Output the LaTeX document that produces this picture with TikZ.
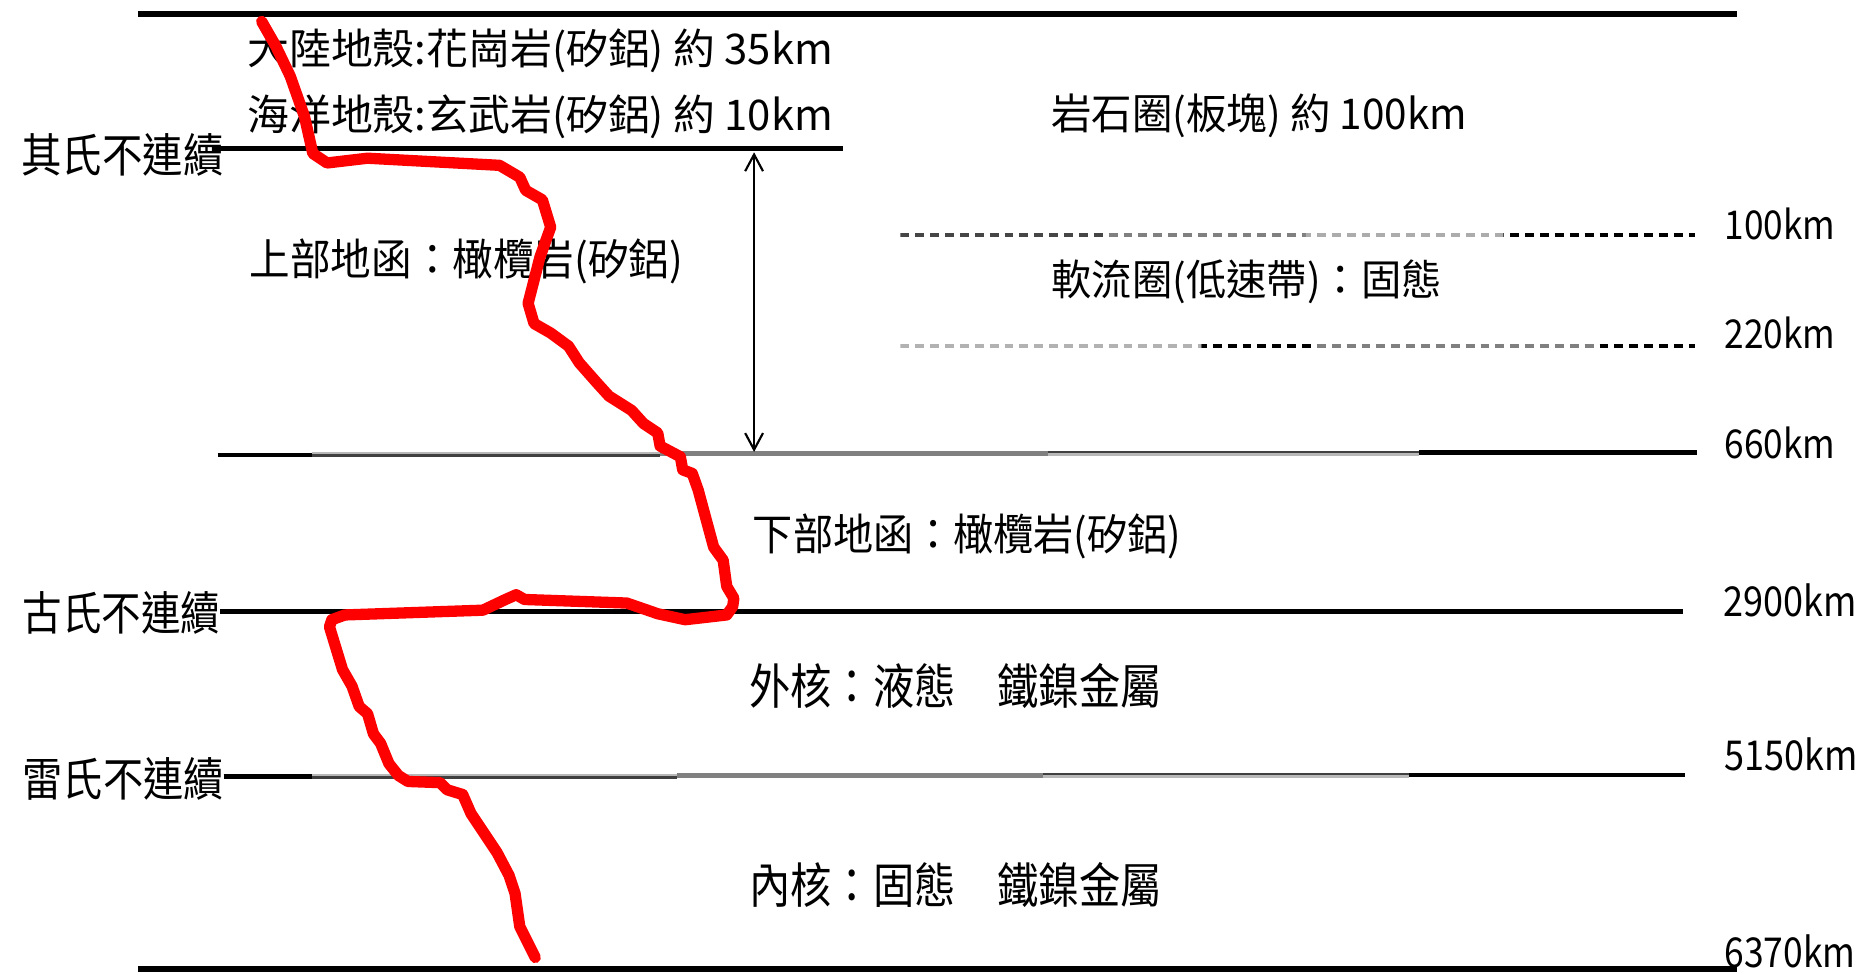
\documentclass[tikz,border=0pt]{standalone}
\usepackage{fontspec}
\usepackage{graphicx}
\newfontfamily\cjk{Noto Sans CJK TC}
\usetikzlibrary{arrows.meta}
\definecolor{lg}{gray}{0.72}
\definecolor{mg}{gray}{0.5}
\definecolor{dg}{gray}{0.25}
\newcommand{\lbl}[3]{\resizebox*{#1}{#2}{\cjk #3}}
\tikzset{
  lab/.style={inner sep=0pt, outer sep=0pt, anchor=west},
  heavy/.style={line width=0.05cm, black},
  layer/.style={line width=0.04cm},
  half/.style={line width=0.02cm},
  dashpat/.style={line width=0.032cm, dash pattern=on 0.075cm off 0.05cm},
  redpath/.style={red, line width=0.095cm, line join=round, line cap=round},
  dblarrow/.style={line width=0.018cm, {Straight Barb[length=0.14cm,width=0.15cm]}-{Straight Barb[length=0.14cm,width=0.15cm]}}
}
\newcommand{\dseg}[4]{% y, x0, x1, colour
  \begin{scope}\clip (#2,#1-6) rectangle (#3,#1+6);
  \draw[dashpat, #4] (757,#1) -- (1425,#1);\end{scope}}
\begin{document}
\begin{tikzpicture}[x=0.01cm, y=-0.01cm]
\useasboundingbox (0,0) rectangle (1568,817);
\fill[white] (0,0) rectangle (1568,817);

% main horizontal lines
\draw[heavy] (116,11.5) -- (1460,11.5);
\draw[layer] (180,125) -- (709,125);
\draw[layer] (185,514) -- (1415,514);
\draw[heavy] (116,815) -- (1460,815);

% 660 km line (antialiased grey parts)
\draw[layer] (183,382.5) -- (262,382.5);
\draw[half, lg] (262,381.2) -- (555,381.2);
\draw[half, dg] (262,383) -- (555,383);
\draw[layer, mg] (555,381.5) -- (881,381.5);
\draw[half, dg] (881,380.2) -- (1193,380.2);
\draw[half, lg] (881,382) -- (1193,382);
\draw[layer] (1193,380.7) -- (1427,380.7);

% 5150 km line
\draw[layer] (188,653) -- (262,653);
\draw[half, lg] (262,651.8) -- (569,651.8);
\draw[half, dg] (262,653.6) -- (569,653.6);
\draw[layer, mg] (569,652.3) -- (877,652.3);
\draw[half, dg] (877,651) -- (1185,651);
\draw[half, lg] (877,652.8) -- (1185,652.8);
\draw[layer] (1185,651.5) -- (1417,651.5);

% dashed lines
\dseg{197.5}{757}{928}{gray!55!black}
\dseg{197.5}{928}{1098}{mg}
\dseg{197.5}{1098}{1264}{gray!65}
\dseg{197.5}{1264}{1425}{black}
\dseg{291}{757}{1010}{gray!60}
\dseg{291}{1010}{1103}{black}
\dseg{291}{1103}{1341}{mg}
\dseg{291}{1341}{1425}{black}

% double arrow
\coordinate (arrT) at (634,128);
\coordinate (arrB) at (634,380);
\draw[dblarrow] (arrT) -- (arrB);

% labels
\node[lab] (crust1) at (208,43) {\lbl{4.92cm}{0.37cm}{大陸地殼:花崗岩(矽鋁) 約 35km}};
\node[lab] (crust2) at (208,98) {\lbl{4.92cm}{0.37cm}{海洋地殼:玄武岩(矽鋁) 約 10km}};
\node[lab] (moho) at (18,130) {\lbl{1.70cm}{0.36cm}{其氏不連續}};
\node[lab] (litho) at (884,97) {\lbl{3.49cm}{0.37cm}{岩石圈(板塊) 約 100km}};
\node[lab] (astheno) at (884,237) {\lbl{3.28cm}{0.37cm}{軟流圈(低速帶)：固態}};
\node[lab] (upper) at (210,220) {\lbl{3.64cm}{0.38cm}{上部地函：橄欖岩(矽鋁)}};
\node[lab] (lower) at (633,451) {\lbl{3.60cm}{0.38cm}{下部地函：橄欖岩(矽鋁)}};
\node[lab] (outer) at (630,577) {\lbl{3.47cm}{0.38cm}{外核：液態　鐵鎳金屬}};
\node[lab] (inner) at (630,744) {\lbl{3.47cm}{0.38cm}{內核：固態　鐵鎳金屬}};
\node[lab] (guten) at (19,515) {\lbl{1.66cm}{0.36cm}{古氏不連續}};
\node[lab] (lehm) at (19,655) {\lbl{1.69cm}{0.36cm}{雷氏不連續}};
\node[lab] (d100) at (1450,188) {\lbl{0.93cm}{0.27cm}{100km}};
\node[lab] (d220) at (1450,280) {\lbl{0.93cm}{0.27cm}{220km}};
\node[lab] (d660) at (1450,372) {\lbl{0.93cm}{0.27cm}{660km}};
\node[lab] (d2900) at (1449,505) {\lbl{1.12cm}{0.28cm}{2900km}};
\node[lab] (d5150) at (1450,634) {\lbl{1.12cm}{0.28cm}{5150km}};
\node[lab] (d6370) at (1450,800) {\lbl{1.10cm}{0.28cm}{6370km}};

% red velocity curve
\draw[redpath] (220,18) -- (232,39) -- (244,64) -- (256,98) -- (263,129) -- (275,137)
 -- (309,133) -- (420,139) -- (437,149) -- (442,160) -- (456,168) -- (463,191)
 -- (454,216) -- (444,255) -- (449,272) -- (463,280) -- (478,291) -- (487,305)
 -- (502,322) -- (512,333) -- (531,345) -- (541,356) -- (553,364) -- (555,375)
 -- (572,384) -- (574,395) -- (582,398) -- (587,412) -- (600,460) -- (608,471)
 -- (611,493) -- (617,503) -- (616,510) -- (611,517) -- (585,520) -- (576,521)
 -- (553,516) -- (527,507) -- (441,504) -- (434,500) -- (425,504) -- (406,513)
 -- (290,517) -- (279,521) -- (277,527) -- (288,563) -- (296,577) -- (302,594)
 -- (309,600) -- (314,617) -- (320,625) -- (327,642) -- (335,652) -- (343,657)
 -- (370,658) -- (376,664) -- (389,668) -- (396,684) -- (418,717) -- (428,736)
 -- (433,751) -- (437,779) -- (450,805);
\end{tikzpicture}
\end{document}
